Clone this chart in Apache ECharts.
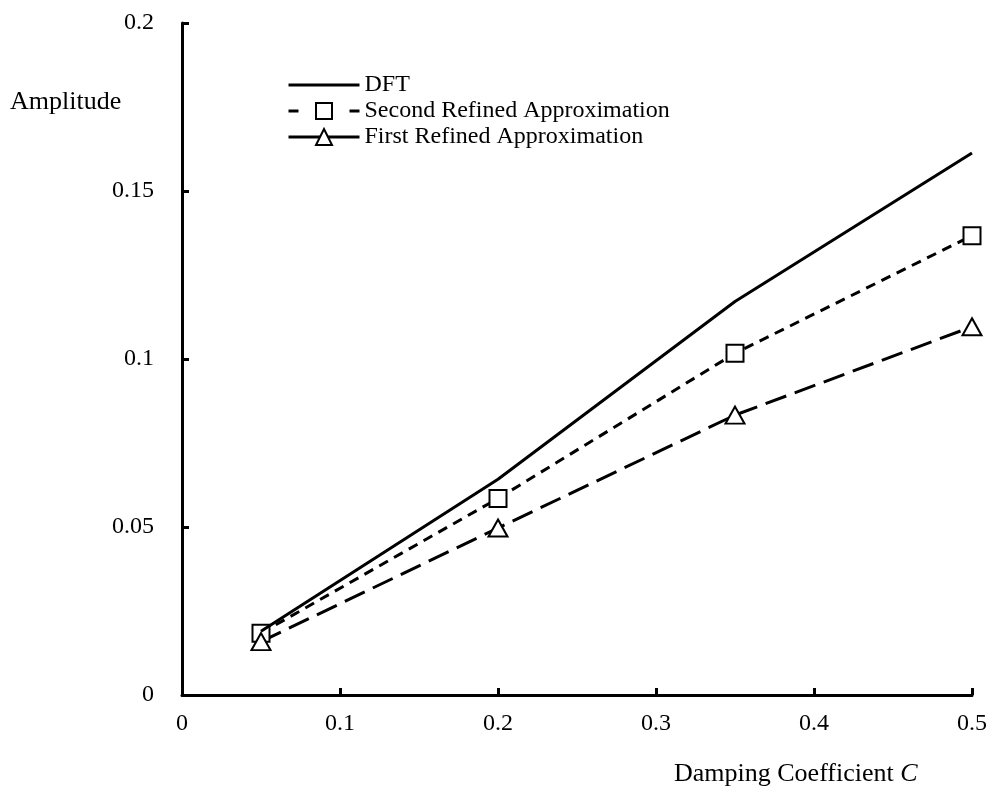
<!DOCTYPE html>
<html>
<head>
<meta charset="utf-8">
<script src="https://cdn.jsdelivr.net/npm/echarts@6/dist/echarts.min.js"></script>
<style>
  html, body { margin: 0; padding: 0; background: #fff; }
  #chart { width: 992px; height: 798px; }
</style>
</head>
<body>
<div id="chart"></div>
<script>
// damping coefficient C
const dampingC = [0.05, 0.2, 0.35, 0.5];
const dftAmp = [0.019, 0.0642, 0.1171, 0.1613];
const secondAmp = [0.0184, 0.0585, 0.1017, 0.1367];
const firstAmp = [0.0159, 0.0497, 0.0833, 0.1096];

const FONT = 'Liberation Serif';

const toPairs = (ys) => dampingC.map((x, i) => [x, ys[i]]);

const axisCommon = {
  type: 'value',
  axisLine: { show: true, lineStyle: { color: '#000', width: 3 } },
  axisTick: { show: true, inside: true, length: 7, lineStyle: { color: '#000', width: 3 } },
  splitLine: { show: false },
  axisLabel: { color: '#000', fontFamily: FONT, fontSize: 24 },
};

const markerStyle = { color: '#fff', borderColor: '#000', borderWidth: 2 };

const chart = echarts.init(document.getElementById('chart'));
chart.setOption({
  animation: false,
  backgroundColor: '#fff',
  grid: { left: 182, right: 20, top: 23, bottom: 103 },
  xAxis: {
    ...axisCommon,
    min: 0,
    max: 0.5,
    interval: 0.1,
    axisLabel: { ...axisCommon.axisLabel, margin: 17 },
  },
  yAxis: {
    ...axisCommon,
    min: 0,
    max: 0.2,
    interval: 0.05,
    axisLabel: { ...axisCommon.axisLabel, margin: 28 },
  },
  legend: {
    orient: 'vertical',
    left: 287,
    top: 73,
    padding: 0,
    itemWidth: 71,
    itemHeight: 20,
    itemGap: 2,
    selectedMode: false,
    textStyle: { color: '#000', fontFamily: FONT, fontSize: 24 },
    data: [
      { name: 'DFT', itemStyle: { opacity: 0 }, lineStyle: { type: 'solid', width: 3 } },
      { name: 'Second Refined Approximation', lineStyle: { type: [10, 51], width: 3 } },
      { name: 'First Refined Approximation', lineStyle: { type: 'solid', width: 3 } },
    ],
  },
  graphic: [
    {
      type: 'text',
      left: 10,
      top: 89,
      style: { text: 'Amplitude', fill: '#000', font: `26px "${FONT}"` },
    },
    {
      type: 'text',
      left: 674,
      top: 761,
      style: {
        text: 'Damping Coefficient {i|C}',
        fill: '#000',
        font: `26px "${FONT}"`,
        rich: { i: { fontStyle: 'italic', fontFamily: FONT, fontSize: 26 } },
      },
    },
  ],
  series: [
    {
      name: 'DFT',
      type: 'line',
      data: toPairs(dftAmp),
      showSymbol: false,
      symbol: 'none',
      lineStyle: { color: '#000', width: 3 },
      itemStyle: { color: '#000' },
      z: 3,
    },
    {
      name: 'Second Refined Approximation',
      type: 'line',
      data: toPairs(secondAmp),
      symbol: 'rect',
      symbolSize: 17,
      lineStyle: { color: '#000', width: 3, type: [10, 7] },
      itemStyle: markerStyle,
      z: 2,
    },
    {
      name: 'First Refined Approximation',
      type: 'line',
      data: toPairs(firstAmp),
      symbol: 'triangle',
      symbolSize: [19, 17],
      lineStyle: { color: '#000', width: 3, type: [22, 9] },
      itemStyle: markerStyle,
      z: 2,
    },
  ],
});
</script>
</body>
</html>
